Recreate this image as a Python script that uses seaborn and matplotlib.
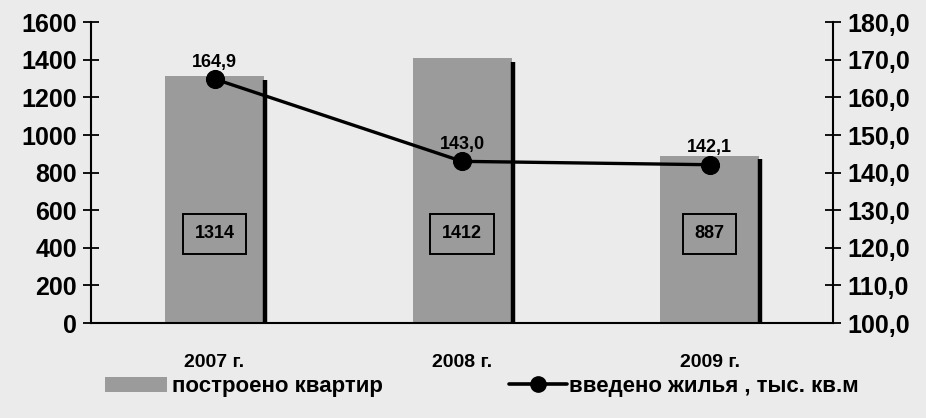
import numpy as np
import pandas as pd
import matplotlib
matplotlib.use("Agg")
import matplotlib.pyplot as plt
import seaborn as sns
from matplotlib.patches import Patch
from matplotlib.lines import Line2D

# данные
years = ["2007 г.", "2008 г.", "2009 г."]
flats = [1314, 1412, 887]          # построено квартир
area = [164.9, 143.0, 142.1]       # введено жилья, тыс. кв.м

bg = "#ebebeb"
bar_color = "#9b9b9b"

sns.set_style("white")
plt.rcParams["font.family"] = ["Liberation Sans", "DejaVu Sans"]
plt.rcParams["font.weight"] = "bold"
plt.rcParams["text.color"] = "black"
plt.rcParams["xtick.color"] = "black"
plt.rcParams["ytick.color"] = "black"

df = pd.DataFrame({"year": years, "flats": flats, "area": area})

fig = plt.figure(figsize=(9.26, 4.18), dpi=100, facecolor=bg)
ax = fig.add_axes([0.098, 0.227, 0.802, 0.72])
ax.set_facecolor(bg)

sns.barplot(data=df, x="year", y="flats", color=bar_color, width=0.4,
            saturation=1, linewidth=0, edgecolor="none", ax=ax, zorder=2)

# тень справа у столбцов
for i, v in enumerate(flats):
    ax.vlines(i + 0.205, 0, v * 0.985, color="black", lw=3.2, zorder=3)
    ax.text(i, 475, str(v), ha="center", va="center", fontsize=13, fontweight="bold",
            bbox=dict(boxstyle="square,pad=0.65", fc="none", ec="black", lw=1.4), zorder=4)

ax.set_ylim(0, 1600)
ax.set_yticks(np.arange(0, 1601, 200))
ax.set_xlim(-0.5, 2.5)
ax.set_xlabel("")
ax.set_ylabel("")
ax.tick_params(axis="y", direction="inout", length=12, width=1.3, labelsize=18, pad=4)
ax.tick_params(axis="x", which="major", length=0, labelsize=14, pad=22)
ax.set_xticks([-0.5, 0.5, 1.5, 2.5], minor=True)
ax.tick_params(axis="x", which="minor", direction="inout", length=12, width=1.3)
for lab in ax.get_xticklabels() + ax.get_yticklabels():
    lab.set_fontweight("bold")
for s in ["top", "right"]:
    ax.spines[s].set_visible(False)
ax.spines["left"].set_linewidth(1.5)
ax.spines["bottom"].set_linewidth(1.5)
ax.spines["left"].set_color("black")
ax.spines["bottom"].set_color("black")

ax2 = ax.twinx()
sns.lineplot(data=df, x="year", y="area", color="black", lw=2.4, marker="o",
             markersize=13, markeredgecolor="black", ax=ax2, zorder=5)
ax2.set_ylim(100, 180)
ax2.set_yticks(np.arange(100, 181, 10))
ax2.set_yticklabels([f"{t:.1f}".replace(".", ",") for t in np.arange(100, 181, 10)])
ax2.set_ylabel("")
ax2.tick_params(axis="y", direction="inout", length=12, width=1.3, labelsize=18, pad=4)
for lab in ax2.get_yticklabels():
    lab.set_fontweight("bold")
for s in ["top", "left", "bottom"]:
    ax2.spines[s].set_visible(False)
ax2.spines["right"].set_linewidth(1.5)
ax2.spines["right"].set_color("black")

for i, v in enumerate(area):
    ax2.annotate(f"{v:.1f}".replace(".", ","), (i, v), xytext=(0, 6),
                 textcoords="offset points", ha="center", va="bottom",
                 fontsize=13, fontweight="bold")

# легенда
h1 = Patch(facecolor=bar_color, edgecolor="none")
h2 = Line2D([], [], color="black", lw=2.6, marker="o", markersize=11)
fig.legend([h1], ["построено квартир"], loc="center left",
           bbox_to_anchor=(0.092, 0.075), frameon=False, handlelength=2.8,
           handletextpad=0.2, prop=dict(size=16, weight="bold"))
fig.legend([h2], ["введено жилья , тыс. кв.м"], loc="center left",
           bbox_to_anchor=(0.528, 0.075), frameon=False, handlelength=2.6,
           handletextpad=0.1, prop=dict(size=16, weight="bold"))

fig.savefig("out.png", dpi=100, facecolor=bg)
